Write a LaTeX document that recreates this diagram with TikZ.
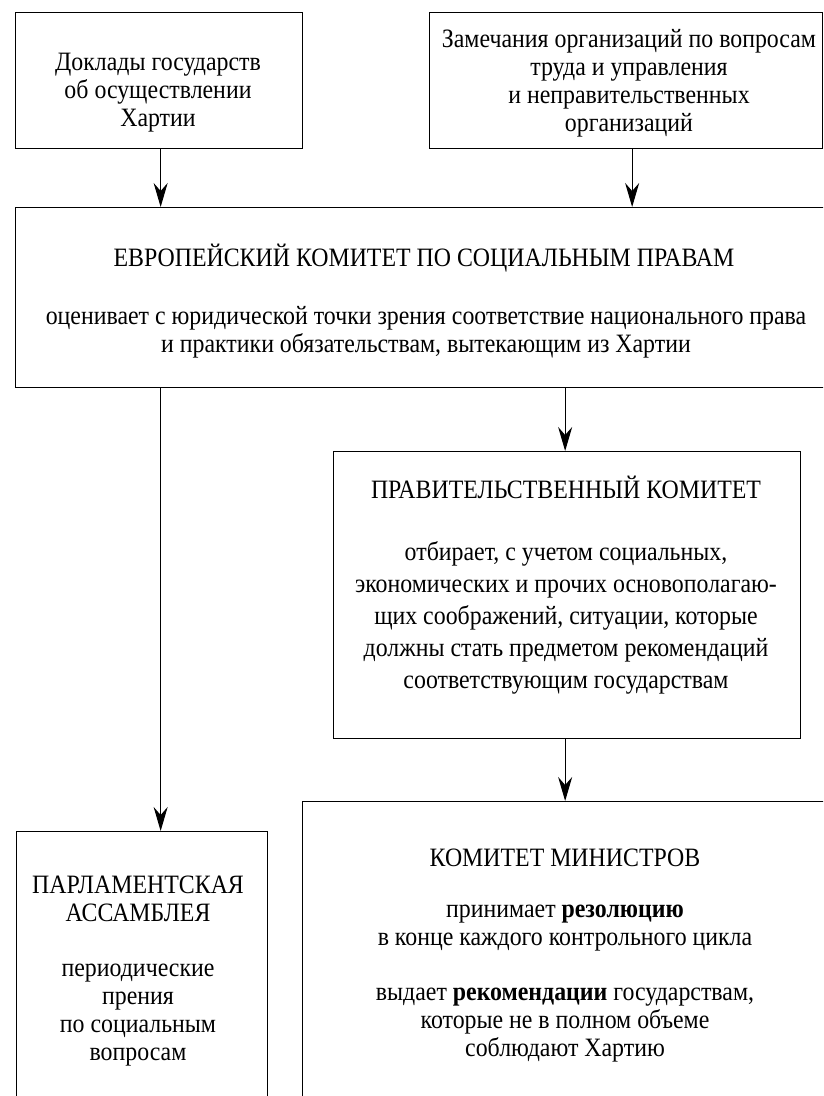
\documentclass[tikz,border=0pt]{standalone}
\usepackage{fontspec}
\setmainfont{Liberation Serif}[FakeStretch=0.9]
\usetikzlibrary{arrows.meta}
\begin{document}
\begin{tikzpicture}[x=1pt,y=-1pt,
  boxst/.style={draw, line width=1.3pt, inner sep=0pt, anchor=north west},
  txt/.style={align=center, font=\fontsize{26.5}{28}\selectfont, inner sep=0pt},
  txtw/.style={align=center, font=\fontsize{26.5}{32}\selectfont, inner sep=0pt},
  arr/.style={line width=1pt, -{Stealth[length=24pt,width=14pt,inset=8pt]}}]
\useasboundingbox (0,0) rectangle (823,1096);
\clip (0,0) rectangle (823,1096);
% boxes
\node[boxst, minimum width=287pt, minimum height=136pt] (b1) at (15,12) {};
\node[boxst, minimum width=393pt, minimum height=136pt] (b2) at (429,12) {};
\node[boxst, minimum width=840pt, minimum height=180pt] (big) at (15,207) {};
\node[boxst, minimum width=467pt, minimum height=287pt] (gov) at (333,451) {};
\node[boxst, minimum width=560pt, minimum height=320pt] (min) at (302,801) {};
\node[boxst, minimum width=251pt, minimum height=300pt] (parl) at (16,831) {};
% texts
\node[txt] (t1) at (158,93) {Доклады государств\\об осуществлении\\Хартии};
\node[txt] (t2) at (629,83) {Замечания организаций по вопросам\\труда и управления\\и неправительственных\\организаций};
\node[txt] (t3a) at (424,258) {ЕВРОПЕЙСКИЙ КОМИТЕТ ПО СОЦИАЛЬНЫМ ПРАВАМ};
\node[txt] (t3b) at (426,332) {оценивает с юридической точки зрения соответствие национального права\\и практики обязательствам, вытекающим из Хартии};
\node[txt] (t4a) at (566,487) {ПРАВИТЕЛЬСТВЕННЫЙ КОМИТЕТ};
\node[txtw] (t4b) at (566,618) {отбирает, с учетом социальных,\\экономических и прочих основополагаю-\\щих соображений, ситуации, которые\\должны стать предметом рекомендаций\\соответствующим государствам};
\node[txt] (t5a) at (565,858) {КОМИТЕТ МИНИСТРОВ};
\node[txt] (t5b) at (565,984) {принимает \textbf{резолюцию}\\в конце каждого контрольного цикла\\[27pt]выдает \textbf{рекомендации} государствам,\\которые не в полном объеме\\соблюдают Хартию};
\node[txt] (t6) at (138,971) {ПАРЛАМЕНТСКАЯ\\АССАМБЛЕЯ\\[27pt]периодические\\прения\\по социальным\\вопросам};
% connectors
\coordinate (a1s) at ([xshift=1.5pt]b1.south);
\coordinate (a2s) at ([xshift=6pt]b2.south);
\draw[arr] (a1s) -- (a1s |- big.north);
\draw[arr] (a2s) -- (a2s |- big.north);
\draw[arr] (a1s |- big.south) -- (a1s |- parl.north);
\draw[arr] ([xshift=-2pt]gov.north |- big.south) -- ([xshift=-2pt]gov.north);
\draw[arr] ([xshift=-2pt]gov.south) -- ([xshift=-2pt]gov.south |- min.north);
\end{tikzpicture}
\end{document}
